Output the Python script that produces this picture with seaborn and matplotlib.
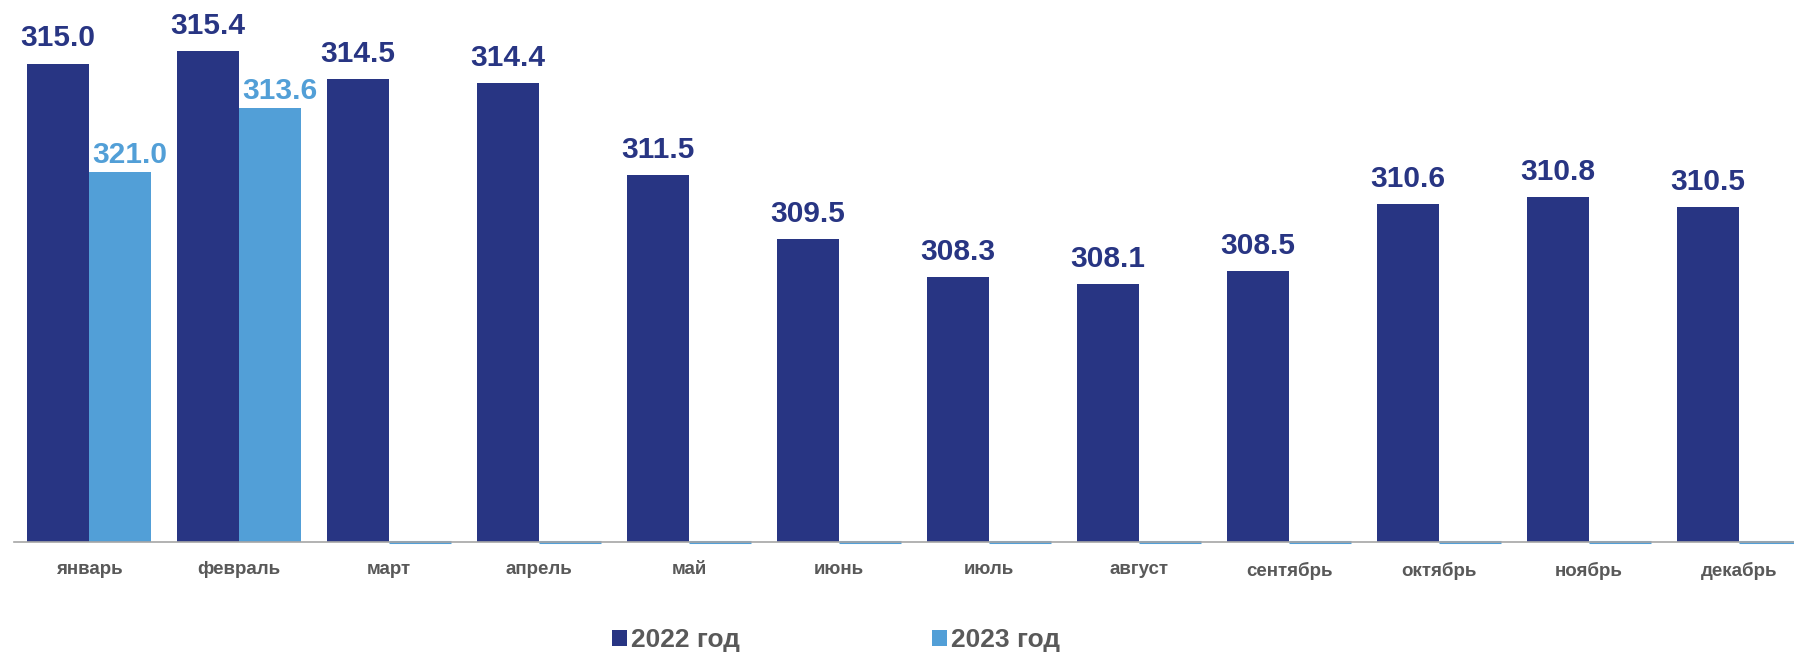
import matplotlib
matplotlib.use("Agg")
import matplotlib.pyplot as plt
import seaborn as sns
import pandas as pd

months = ["январь", "февраль", "март", "апрель", "май", "июнь",
          "июль", "август", "сентябрь", "октябрь", "ноябрь", "декабрь"]
values_2022 = [315.0, 315.4, 314.5, 314.4, 311.5, 309.5, 308.3, 308.1, 308.5, 310.6, 310.8, 310.5]
# bar heights as drawn in the picture (Jan 2023 bar is drawn near 311.6 although labelled 321.0)
values_2023 = [311.6, 313.6, 0, 0, 0, 0, 0, 0, 0, 0, 0, 0]
labels_2022 = ["315.0", "315.4", "314.5", "314.4", "311.5", "309.5", "308.3", "308.1", "308.5", "310.6", "310.8", "310.5"]
labels_2023 = ["321.0", "313.6", "", "", "", "", "", "", "", "", "", ""]
series = ["2022 год", "2023 год"]

C22 = "#283583"
C23 = "#529FD7"
GRAY = "#595959"

sns.set_theme(style="white")
plt.rcParams["font.family"] = ["Liberation Sans", "DejaVu Sans"]

df = pd.DataFrame({
    "month": months * 2,
    "value": values_2022 + values_2023,
    "year": [series[0]] * 12 + [series[1]] * 12,
})

fig = plt.figure(figsize=(17.94, 6.53), dpi=100)
ax = fig.add_axes([14 / 1794, (653 - 542) / 653, 1800 / 1794, 542 / 653])

sns.barplot(data=df, x="month", y="value", hue="year", order=months,
            hue_order=series, palette=[C22, C23], width=0.83,
            saturation=1, ax=ax, linewidth=0, errorbar=None)

YMIN = 300.0
ax.set_ylim(YMIN, YMIN + 542 / 31.9)
ax.set_xlim(-0.5, 11.5)

# bars below the axis minimum are drawn as flat lines on the baseline
for p in ax.patches:
    if p.get_height() <= YMIN:
        p.set_y(YMIN)
        p.set_height(0)
        p.set_edgecolor(C23)
        p.set_linewidth(2.2)
        p.set_clip_on(False)

# value labels
for i, (v, lab) in enumerate(zip(values_2022, labels_2022)):
    ax.annotate(lab, (i - 0.2075, v), xytext=(0, 12.3), textcoords="offset points",
                ha="center", va="baseline", fontsize=21.5, fontweight="bold", color=C22)
for i, (v, lab) in enumerate(zip(values_2023, labels_2023)):
    if lab:
        ax.annotate(lab, (i + 0.2075, v), xytext=(7, 6.5), textcoords="offset points",
                    ha="center", va="baseline", fontsize=21.5, fontweight="bold", color=C23)

# axes styling
for s in ["top", "right", "left"]:
    ax.spines[s].set_visible(False)
ax.spines["bottom"].set_color("#A6A6A6")
ax.spines["bottom"].set_linewidth(1.2)
ax.set_yticks([])
ax.set_xlabel("")
ax.set_ylabel("")
ax.set_xticks(range(12))
ax.set_xticklabels(months, fontsize=13.5, fontweight="bold", color=GRAY)
ax.tick_params(axis="x", which="major", length=0, pad=14)
ax.set_xticks([i - 0.5 for i in range(13)], minor=True)
ax.tick_params(axis="x", which="minor", length=5, width=1.2, color="#A6A6A6", direction="out")

sns.move_legend(ax, "center", bbox_to_anchor=(836 / 1794, 13 / 653),
                bbox_transform=fig.transFigure, ncol=2, frameon=False, title=None,
                handlelength=0.55, handleheight=0.55, handletextpad=0.15,
                columnspacing=7.3, prop={"size": 19, "weight": "bold"})
for t in ax.get_legend().get_texts():
    t.set_color(GRAY)

fig.savefig("out.png", dpi=100)
